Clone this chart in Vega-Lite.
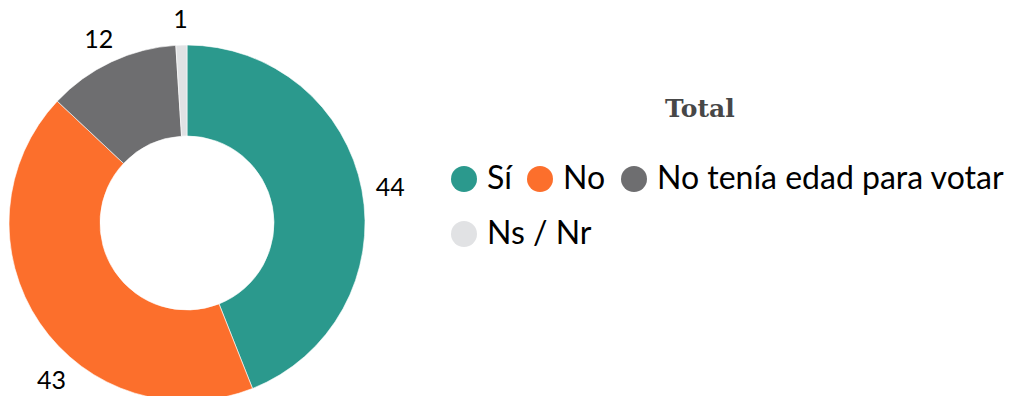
{
  "$schema": "https://vega.github.io/schema/vega-lite/v6.json",
  "autosize": "none",
  "width": 374,
  "height": 446,
  "padding": {"left": 0, "top": 0, "right": 641, "bottom": 0},
  "background": "white",
  "title": {
    "text": "Total",
    "anchor": "start",
    "frame": "group",
    "orient": "top",
    "offset": 0,
    "dx": 665,
    "dy": 142,
    "baseline": "alphabetic",
    "font": "DejaVu Serif",
    "fontWeight": 900,
    "fontSize": 25,
    "color": "#474747"
  },
  "data": {
    "values": [
      {"respuesta": "Sí", "valor": 44, "orden": 1},
      {"respuesta": "No", "valor": 43, "orden": 2},
      {"respuesta": "No tenía edad para votar", "valor": 12, "orden": 3},
      {"respuesta": "Ns / Nr", "valor": 1, "orden": 4}
    ]
  },
  "encoding": {
    "theta": {"field": "valor", "type": "quantitative", "stack": true},
    "order": {"field": "orden", "type": "quantitative"}
  },
  "layer": [
    {
      "mark": {"type": "arc", "outerRadius": 178, "innerRadius": 87, "stroke": "white", "strokeWidth": 0.6},
      "encoding": {
        "color": {
          "field": "respuesta",
          "type": "nominal",
          "sort": ["Sí", "No", "No tenía edad para votar", "Ns / Nr"],
          "scale": {
            "domain": ["Sí", "No", "No tenía edad para votar", "Ns / Nr"],
            "range": ["#2b998d", "#fc6f2c", "#6e6e70", "#e1e2e4"]
          },
          "legend": {
            "title": null,
            "values": ["Sí", "No", "No tenía edad para votar"],
            "orient": "none",
            "legendX": 448,
            "legendY": 163,
            "direction": "horizontal",
            "padding": 0,
            "symbolType": "circle",
            "symbolSize": 676,
            "symbolStrokeWidth": 0,
            "labelFont": "Lato",
            "labelFontSize": 32,
            "labelColor": "#000000",
            "labelOffset": 7,
            "labelLimit": 600,
            "columnPadding": 12
          }
        }
      }
    },
    {
      "mark": {"type": "text", "radius": 207, "font": "Lato", "fontSize": 25, "dy": 4},
      "encoding": {
        "text": {"condition": {"test": "datum.respuesta != 'No'", "field": "valor", "type": "quantitative"}, "value": ""},
        "color": {"value": "#000000"}
      }
    },
    {
      "mark": {"type": "text", "radius": 206, "font": "Lato", "fontSize": 25, "dx": 35, "dy": 42},
      "encoding": {
        "text": {"condition": {"test": "datum.respuesta == 'No'", "field": "valor", "type": "quantitative"}, "value": ""},
        "color": {"value": "#000000"}
      }
    },
    {
      "transform": [{"calculate": "datum.respuesta", "as": "respuesta_extra"}],
      "mark": {"type": "text", "radius": 207},
      "encoding": {
        "text": {"value": ""},
        "color": {"value": "#e1e2e4"},
        "stroke": {
          "field": "respuesta_extra",
          "type": "nominal",
          "scale": {"domain": ["Ns / Nr"], "range": ["#e1e2e4"]},
          "legend": {
            "title": null,
            "orient": "none",
            "legendX": 448,
            "legendY": 218,
            "direction": "horizontal",
            "padding": 0,
            "symbolType": "circle",
            "symbolSize": 676,
            "symbolStrokeWidth": 0,
            "symbolFillColor": "#e1e2e4",
            "labelFont": "Lato",
            "labelFontSize": 32,
            "labelColor": "#000000",
            "labelOffset": 7,
            "labelLimit": 600
          }
        },
        "strokeWidth": {"value": 0}
      }
    }
  ]
}
